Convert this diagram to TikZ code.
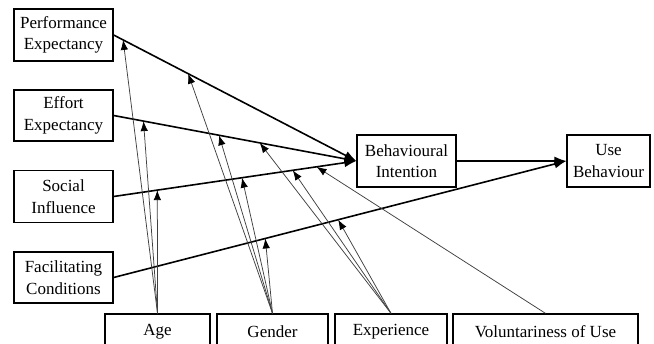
\documentclass[tikz,border=0pt]{standalone}
\usepackage{fontspec}
\setmainfont{Liberation Serif}
\usetikzlibrary{arrows.meta}
\begin{document}
\begin{tikzpicture}[x=1pt, y=-1pt,
    box/.style={draw, line width=1.3pt, align=center, inner sep=0pt,
      font=\fontsize{17}{21.5}\selectfont},
    main/.style={line width=1.6pt, -{Latex[length=12pt,width=9pt]}},
    mod/.style={line width=0.75pt, draw=black!75, -{Latex[length=10pt,width=7.5pt,black]}}]
    \useasboundingbox (0,0) rectangle (654,344);

    % Predictors
    \node[box, minimum width=99pt, minimum height=52pt] (pe) at (63.5, 35) {Performance\\Expectancy};
    \node[box, minimum width=99pt, minimum height=51pt] (ee) at (63.5, 115.5) {Effort\\Expectancy};
    \node[box, minimum width=99pt, minimum height=52pt] (si) at (63.5, 196.5) {Social\\Influence};
    \node[box, minimum width=99pt, minimum height=51pt] (fc) at (63.5, 277.5) {Facilitating\\Conditions};

    % Outcomes
    \node[box, minimum width=99pt, minimum height=52pt] (bi) at (406.5, 161) {Behavioural\\Intention};
    \node[box, minimum width=83pt, minimum height=52pt] (ub) at (608.5, 161) {Use\\Behaviour};

    % Moderators
    \node[box, minimum width=105pt, minimum height=36pt] (age) at (157.5, 332) {Age};
    \node[box, minimum width=111pt, minimum height=36pt] (gender) at (272.5, 332) {Gender};
    \node[box, minimum width=112pt, minimum height=36pt] (exp) at (391, 332) {Experience};
    \node[box, minimum width=185pt, minimum height=36pt] (vol) at (545.5, 332) {Voluntariness of Use};

    % Main paths
    \draw[main] (pe.east) -- (bi.west)
      coordinate[pos=0.039] (pe-age) coordinate[pos=0.307] (pe-gender);
    \draw[main] (ee.east) -- (bi.west)
      coordinate[pos=0.123] (ee-age) coordinate[pos=0.434] (ee-gender)
      coordinate[pos=0.602] (ee-exp);
    \draw[main] (si.east) -- (bi.west)
      coordinate[pos=0.18] (si-age) coordinate[pos=0.529] (si-gender)
      coordinate[pos=0.738] (si-exp) coordinate[pos=0.836] (si-vol);
    \draw[main] (fc.east) -- (ub.west)
      coordinate[pos=0.335] (fc-gender) coordinate[pos=0.496] (fc-exp);
    \draw[main] (bi.east) -- (ub.west);

    % Moderating effects
    \foreach \t in {pe, ee, si} \draw[mod] (age.north) -- (\t-age);
    \foreach \t in {pe, ee, si, fc} \draw[mod] (gender.north) -- (\t-gender);
    \foreach \t in {ee, si, fc} \draw[mod] (exp.north) -- (\t-exp);
    \draw[mod] (vol.north) -- (si-vol);
\end{tikzpicture}
\end{document}
